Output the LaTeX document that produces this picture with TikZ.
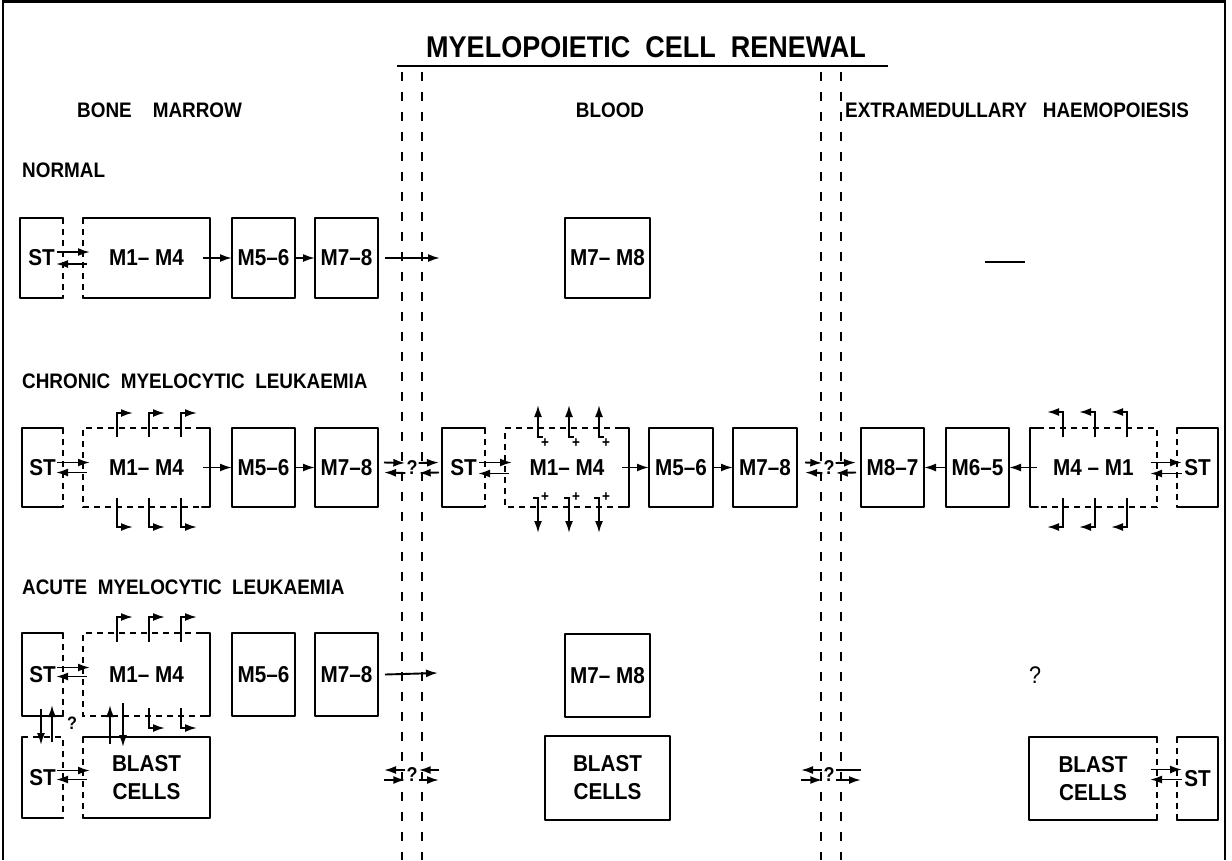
\documentclass[tikz,border=0pt]{standalone}
\usepackage{fontspec}
\setmainfont[FakeStretch=0.9]{Liberation Sans}
\usetikzlibrary{arrows.meta}
\newcommand\boxall[1]{\draw[bx] (#1.north west) rectangle (#1.south east);}
\newcommand\boxdr[1]{\draw[bx] (#1.north east) -- (#1.north west) -- (#1.south west) -- (#1.south east); \draw[dbx] (#1.north east) -- (#1.south east);}
\newcommand\boxdl[1]{\draw[bx] (#1.north west) -- (#1.north east) -- (#1.south east) -- (#1.south west); \draw[dbx] (#1.north west) -- (#1.south west);}
\newcommand\boxopenr[1]{\draw[dbx] ([xshift=-8pt]#1.north east) -- (#1.north west) -- (#1.south west) -- ([xshift=-8pt]#1.south east);
 \draw[bx] ([xshift=-8pt]#1.north east) -- (#1.north east) -- (#1.south east) -- ([xshift=-8pt]#1.south east);}
\newcommand\boxopenl[1]{\draw[dbx] ([xshift=8pt]#1.north west) -- (#1.north east) -- (#1.south east) -- ([xshift=8pt]#1.south west);
 \draw[bx] ([xshift=8pt]#1.north west) -- (#1.north west) -- (#1.south west) -- ([xshift=8pt]#1.south west);}
\begin{document}
\begin{tikzpicture}[x=1pt,y=-1pt,
  bx/.style={line width=2.4pt, line join=round, line cap=round},
  dbx/.style={line width=1.7pt, dash pattern=on 6pt off 5pt},
  sep/.style={line width=2.2pt, dash pattern=on 9pt off 11pt},
  arr/.style={line width=1.9pt, -{Latex[length=12pt,width=8pt]}},
  ln/.style={line width=1.9pt},
  cell/.style={inner sep=0pt, outer sep=0pt, anchor=north west, font=\fontsize{23}{28}\selectfont\bfseries, align=center},
  lab/.style={font=\fontsize{21}{24}\selectfont\bfseries, anchor=west, inner sep=0pt},
  qm/.style={font=\fontsize{20}{22}\selectfont\bfseries, inner sep=1pt},
  pl/.style={font=\fontsize{15}{15}\selectfont\bfseries, inner sep=0pt}
]
\useasboundingbox (0,0) rectangle (1232,860);
% frame
\draw[line width=2.5pt] (3,860) -- (3,1.5) -- (1225,1.5) -- (1225,860);
% title and headings
\node[font=\fontsize{30}{34}\selectfont\bfseries, inner sep=0pt] (title) at (646,47) {MYELOPOIETIC\ \ CELL\ \ RENEWAL};
\draw[line width=2.2pt] (397,66) -- (888,66);
\node[lab] (hbm) at (77,110) {BONE\ \ \ \ MARROW};
\node[lab, anchor=center] (hbl) at (610,110) {BLOOD};
\node[lab] (hex) at (845,110) {EXTRAMEDULLARY\ \ \ HAEMOPOIESIS};
\node[lab] (lnorm) at (22,170) {NORMAL};
\node[lab] (lcml) at (22,381) {CHRONIC\ \ MYELOCYTIC\ \ LEUKAEMIA};
\node[lab] (laml) at (22,587) {ACUTE\ \ MYELOCYTIC\ \ LEUKAEMIA};
% separators
\draw[sep] (402,72) -- (402,860);
\draw[sep] (422,72) -- (422,860);
\draw[sep] (821,72) -- (821,860);
\draw[sep] (841,72) -- (841,860);

% ---------------- NORMAL ----------------
\node[cell, minimum width=43pt, minimum height=80pt] (st1) at (20,218) {ST};
\node[cell, minimum width=127pt, minimum height=80pt] (m14a) at (83,218) {M1– M4};
\node[cell, minimum width=63pt, minimum height=80pt] (m56a) at (232,218) {M5–6};
\node[cell, minimum width=63pt, minimum height=80pt] (m78a) at (315,218) {M7–8};
\node[cell, minimum width=85pt, minimum height=80pt] (bm78a) at (565,218) {M7– M8};
\coordinate (n1) at (440,258);
\boxdr{st1} \boxdl{m14a} \boxall{m56a} \boxall{m78a} \boxall{bm78a}
\draw[arr] ([xshift=-6pt,yshift=6pt]st1.east) -- ([xshift=7pt,yshift=6pt]m14a.west);
\draw[arr] ([xshift=4pt,yshift=-6pt]m14a.west) -- ([xshift=-7pt,yshift=-6pt]st1.east);
\draw[arr] ([xshift=-7pt]m14a.east) -- (m56a.west);
\draw[arr] (m56a.east) -- (m78a.west);
\draw[arr] ([xshift=7pt]m78a.east) -- (n1);
\draw[line width=2.2pt] (985,262) -- (1025,262);

% ---------------- CML ----------------
\node[cell, minimum width=41pt, minimum height=79pt] (st2) at (22,428) {ST};
\node[cell, minimum width=127pt, minimum height=79pt] (m14b) at (83,428) {M1– M4};
\node[cell, minimum width=63pt, minimum height=79pt] (m56b) at (232,428) {M5–6};
\node[cell, minimum width=63pt, minimum height=79pt] (m78b) at (315,428) {M7–8};
\node[qm] (q1) at (412,468) {?};
\node[cell, minimum width=43pt, minimum height=79pt] (st3) at (442,428) {ST};
\node[cell, minimum width=124pt, minimum height=79pt] (m14c) at (505,428) {M1– M4};
\node[cell, minimum width=64pt, minimum height=79pt] (m56c) at (649,428) {M5–6};
\node[cell, minimum width=64pt, minimum height=79pt] (m78c) at (733,428) {M7–8};
\node[qm] (q2) at (829,468) {?};
\node[cell, minimum width=63pt, minimum height=79pt] (m87) at (861,428) {M8–7};
\node[cell, minimum width=63pt, minimum height=79pt] (m65) at (946,428) {M6–5};
\node[cell, minimum width=127pt, minimum height=79pt] (m41) at (1030,428) {M4 – M1};
\node[cell, minimum width=41pt, minimum height=79pt] (st4) at (1177,428) {ST};
\boxdr{st2} \boxopenr{m14b} \boxall{m56b} \boxall{m78b}
\boxdr{st3} \boxopenr{m14c} \boxall{m56c} \boxall{m78c}
\boxall{m87} \boxall{m65} \boxopenl{m41} \boxdl{st4}
% BM
\draw[arr] ([xshift=-6pt,yshift=5pt]st2.east) -- ([xshift=7pt,yshift=5pt]m14b.west);
\draw[arr] ([xshift=4pt,yshift=-5pt]m14b.west) -- ([xshift=-7pt,yshift=-5pt]st2.east);
\draw[arr] ([xshift=-7pt]m14b.east) -- (m56b.west);
\draw[arr] (m56b.east) -- (m78b.west);
\foreach \x in {117,149,181}{
  \draw[arr] (\x,437) -- (\x,413) -- (\x+16,413);
  \draw[arr] (\x,498) -- (\x,527) -- (\x+16,527);
}
% BM <-> blood
\draw[arr] ([xshift=6pt,yshift=5pt]m78b.east) -- ([yshift=5pt]q1.west);
\draw[arr] ([yshift=-5pt]q1.west) -- ([xshift=6pt,yshift=-5pt]m78b.east);
\draw[arr] ([yshift=5pt]q1.east) -- ([xshift=-3pt,yshift=5pt]st3.west);
\draw[arr] ([xshift=-3pt,yshift=-5pt]st3.west) -- ([yshift=-5pt]q1.east);
% blood
\draw[arr] ([xshift=-6pt,yshift=5pt]st3.east) -- ([xshift=7pt,yshift=5pt]m14c.west);
\draw[arr] ([xshift=4pt,yshift=-6pt]m14c.west) -- ([xshift=-7pt,yshift=-6pt]st3.east);
\draw[arr] ([xshift=-7pt]m14c.east) -- (m56c.west);
\draw[arr] (m56c.east) -- (m78c.west);
\foreach \x in {538,569,599}{
  \draw[arr] (\x+5,437) -- (\x,437) -- (\x,405);
  \node[pl] at (\x+7,443) {+};
  \draw[arr] (\x-5,498) -- (\x,498) -- (\x,533);
  \node[pl] at (\x+7,497) {+};
}
% blood <-> extramedullary
\draw[arr] ([xshift=8pt,yshift=5pt]m78c.east) -- ([yshift=5pt]q2.west);
\draw[arr] ([yshift=-5pt]q2.west) -- ([xshift=8pt,yshift=-5pt]m78c.east);
\draw[arr] ([yshift=5pt]q2.east) -- ([xshift=-5pt,yshift=5pt]m87.west);
\draw[arr] ([xshift=-5pt,yshift=-5pt]m87.west) -- ([yshift=-5pt]q2.east);
% extramedullary
\draw[arr] ([xshift=7pt]m41.west) -- (m65.east);
\draw[arr] (m65.west) -- (m87.east);
\draw[arr] ([xshift=-6pt,yshift=5pt]m41.east) -- ([xshift=5pt,yshift=5pt]st4.west);
\draw[arr] ([xshift=5pt,yshift=-6pt]st4.west) -- ([xshift=-7pt,yshift=-6pt]m41.east);
\foreach \x in {1063,1095,1127}{
  \draw[arr] (\x,437) -- (\x,412) -- (\x-16,412);
  \draw[arr] (\x,498) -- (\x,527) -- (\x-16,527);
}

% ---------------- AML ----------------
\node[cell, minimum width=41pt, minimum height=83pt] (st5) at (22,633) {ST};
\node[cell, minimum width=127pt, minimum height=83pt] (m14d) at (83,633) {M1– M4};
\node[cell, minimum width=63pt, minimum height=83pt] (m56d) at (232,633) {M5–6};
\node[cell, minimum width=63pt, minimum height=83pt] (m78d) at (315,633) {M7–8};
\coordinate (n2) at (438,673);
\node[cell, minimum width=85pt, minimum height=83pt] (bm78d) at (565,634) {M7– M8};
\node[qm, font=\fontsize{24}{26}\selectfont] (q3) at (1035,675) {?};
\node[cell, minimum width=41pt, minimum height=81pt] (st6) at (22,737) {ST};
\node[cell, minimum width=127pt, minimum height=81pt] (blast1) at (83,737) {BLAST\\CELLS};
\node[cell, minimum width=125pt, minimum height=84pt] (blast2) at (545,736) {BLAST\\CELLS};
\node[cell, minimum width=128pt, minimum height=83pt] (blast3) at (1029,737) {BLAST\\CELLS};
\node[cell, minimum width=41pt, minimum height=83pt] (st7) at (1177,737) {ST};
\node[qm, font=\fontsize{18}{20}\selectfont\bfseries] (q6) at (72,723) {?};
\node[qm] (q4) at (412,775) {?};
\node[qm] (q5) at (829,775) {?};
\coordinate (q4l) at (384,775);
\coordinate (q4r) at (439,775);
\coordinate (q5l) at (801,775);
\coordinate (q5r) at (861,775);
\boxdr{st5} \boxopenr{m14d} \boxall{m56d} \boxall{m78d} \boxall{bm78d}
\draw[bx] (st6.north west) -- (st6.south west) -- (st6.south east);
\draw[dbx] (st6.north west) -- (st6.north east) -- (st6.south east);
\boxdl{blast1} \boxall{blast2} \boxdr{blast3} \boxdl{st7}
% upper BM
\draw[arr] ([xshift=-6pt,yshift=7pt]st5.east) -- ([xshift=7pt,yshift=7pt]m14d.west);
\draw[arr] ([xshift=4pt,yshift=-2pt]m14d.west) -- ([xshift=-7pt,yshift=-2pt]st5.east);
\draw[arr] ([xshift=7pt]m78d.east) -- (n2);
\foreach \x in {117,149,181}{
  \draw[arr] (\x,642) -- (\x,617) -- (\x+16,617);
}
\foreach \x in {149,181}{
  \draw[arr] (\x,708) -- (\x,728) -- (\x+16,728);
}
% ST <-> ST, M1-M4 <-> blast
\draw[arr] (41,709) -- (41,745);
\draw[arr] (52,742) -- (52,705);
\draw[arr] (110,744) -- (110,705);
\draw[arr] (123,703) -- (123,747);
% lower BM
\draw[arr] ([xshift=-6pt,yshift=7pt]st6.east) -- ([xshift=7pt,yshift=7pt]blast1.west);
\draw[arr] ([xshift=4pt,yshift=-2pt]blast1.west) -- ([xshift=-7pt,yshift=-2pt]st6.east);
% exchanges
\draw[arr] ([yshift=5pt]q4.west) -- ([yshift=5pt]q4l);
\draw[arr] ([yshift=-5pt]q4l) -- ([yshift=-5pt]q4.west);
\draw[arr] ([yshift=5pt]q4r) -- ([yshift=5pt]q4.east);
\draw[arr] ([yshift=-5pt]q4.east) -- ([yshift=-5pt]q4r);
\draw[arr] ([yshift=5pt]q5.west) -- ([yshift=5pt]q5l);
\draw[arr] ([yshift=-5pt]q5l) -- ([yshift=-5pt]q5.west);
\draw[ln] ([yshift=5pt]q5.east) -- ([yshift=5pt]q5r);
\draw[arr] ([yshift=-5pt]q5.east) -- ([yshift=-5pt]q5r);
% extramedullary
\draw[arr] ([xshift=-6pt,yshift=9pt]blast3.east) -- ([xshift=5pt,yshift=9pt]st7.west);
\draw[arr] ([xshift=5pt,yshift=-1pt]st7.west) -- ([xshift=-7pt,yshift=-1pt]blast3.east);
\end{tikzpicture}
\end{document}
